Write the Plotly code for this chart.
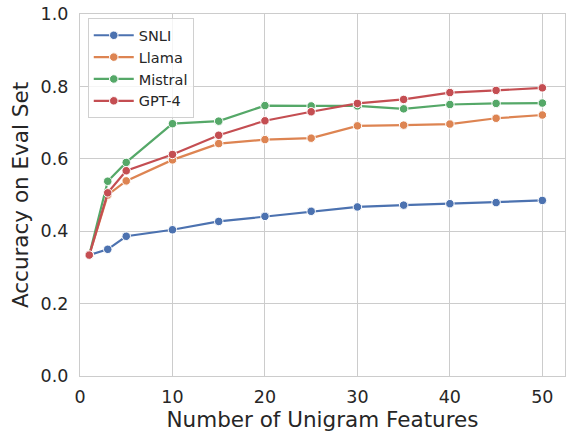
import plotly.graph_objects as go

x_features = [1, 3, 5, 10, 15, 20, 25, 30, 35, 40, 45, 50]
snli = [0.334, 0.350, 0.386, 0.404, 0.427, 0.441, 0.455, 0.467, 0.472, 0.476, 0.479, 0.485]
llama = [0.334, 0.500, 0.539, 0.597, 0.642, 0.653, 0.657, 0.691, 0.693, 0.696, 0.712, 0.721]
mistral = [0.334, 0.538, 0.590, 0.697, 0.704, 0.747, 0.746, 0.746, 0.738, 0.750, 0.753, 0.754]
gpt4 = [0.334, 0.506, 0.567, 0.612, 0.665, 0.705, 0.730, 0.753, 0.764, 0.783, 0.789, 0.796]

series_names = ["SNLI", "Llama", "Mistral", "GPT-4"]
series_values = [snli, llama, mistral, gpt4]
colors = ["#4c72b0", "#dd8452", "#55a868", "#c44e52"]

fig = go.Figure()
for name, vals, c in zip(series_names, series_values, colors):
    fig.add_trace(go.Scatter(
        x=x_features, y=vals, name=name, mode="lines+markers",
        line=dict(color=c, width=2.2),
        marker=dict(color=c, size=8.5, line=dict(color="white", width=1)),
    ))

grid = "#cccccc"
font_color = "#262626"
fig.update_layout(
    width=566, height=432,
    margin=dict(l=80, r=1, t=14, b=56),
    paper_bgcolor="white", plot_bgcolor="white",
    font=dict(family="DejaVu Sans", color=font_color, size=17),
    showlegend=True,
    legend=dict(
        x=0.016, y=0.988, xanchor="left", yanchor="top",
        bgcolor="rgba(255,255,255,0.8)", bordercolor="#d0d0d0", borderwidth=1,
        font=dict(size=14.5, color=font_color),
        itemwidth=40,
    ),
    xaxis=dict(
        range=[0, 52.45], tickvals=[0, 10, 20, 30, 40, 50],
        showgrid=True, gridcolor=grid, gridwidth=1.2, automargin=False,
        zeroline=False, showline=True, linecolor=grid, linewidth=1.2, mirror=True,
        ticks="outside", ticklen=5, tickcolor="rgba(0,0,0,0)",
        title=dict(text="Number of Unigram Features", font=dict(size=21.5)),
        tickfont=dict(size=17.5),
    ),
    yaxis=dict(
        range=[0, 1], tickvals=[0, 0.2, 0.4, 0.6, 0.8, 1.0], tickformat=".1f",
        showgrid=True, gridcolor=grid, gridwidth=1.2, automargin=True,
        zeroline=False, showline=True, linecolor=grid, linewidth=1.2, mirror=True,
        ticks="outside", ticklen=7, tickcolor="rgba(0,0,0,0)",
        title=dict(text="Accuracy on Eval Set", font=dict(size=21.5), standoff=6),
        tickfont=dict(size=17.5),
    ),
)

fig.write_html("out.html", config={"displayModeBar": False},
               post_script="document.body.style.margin='0px';")
